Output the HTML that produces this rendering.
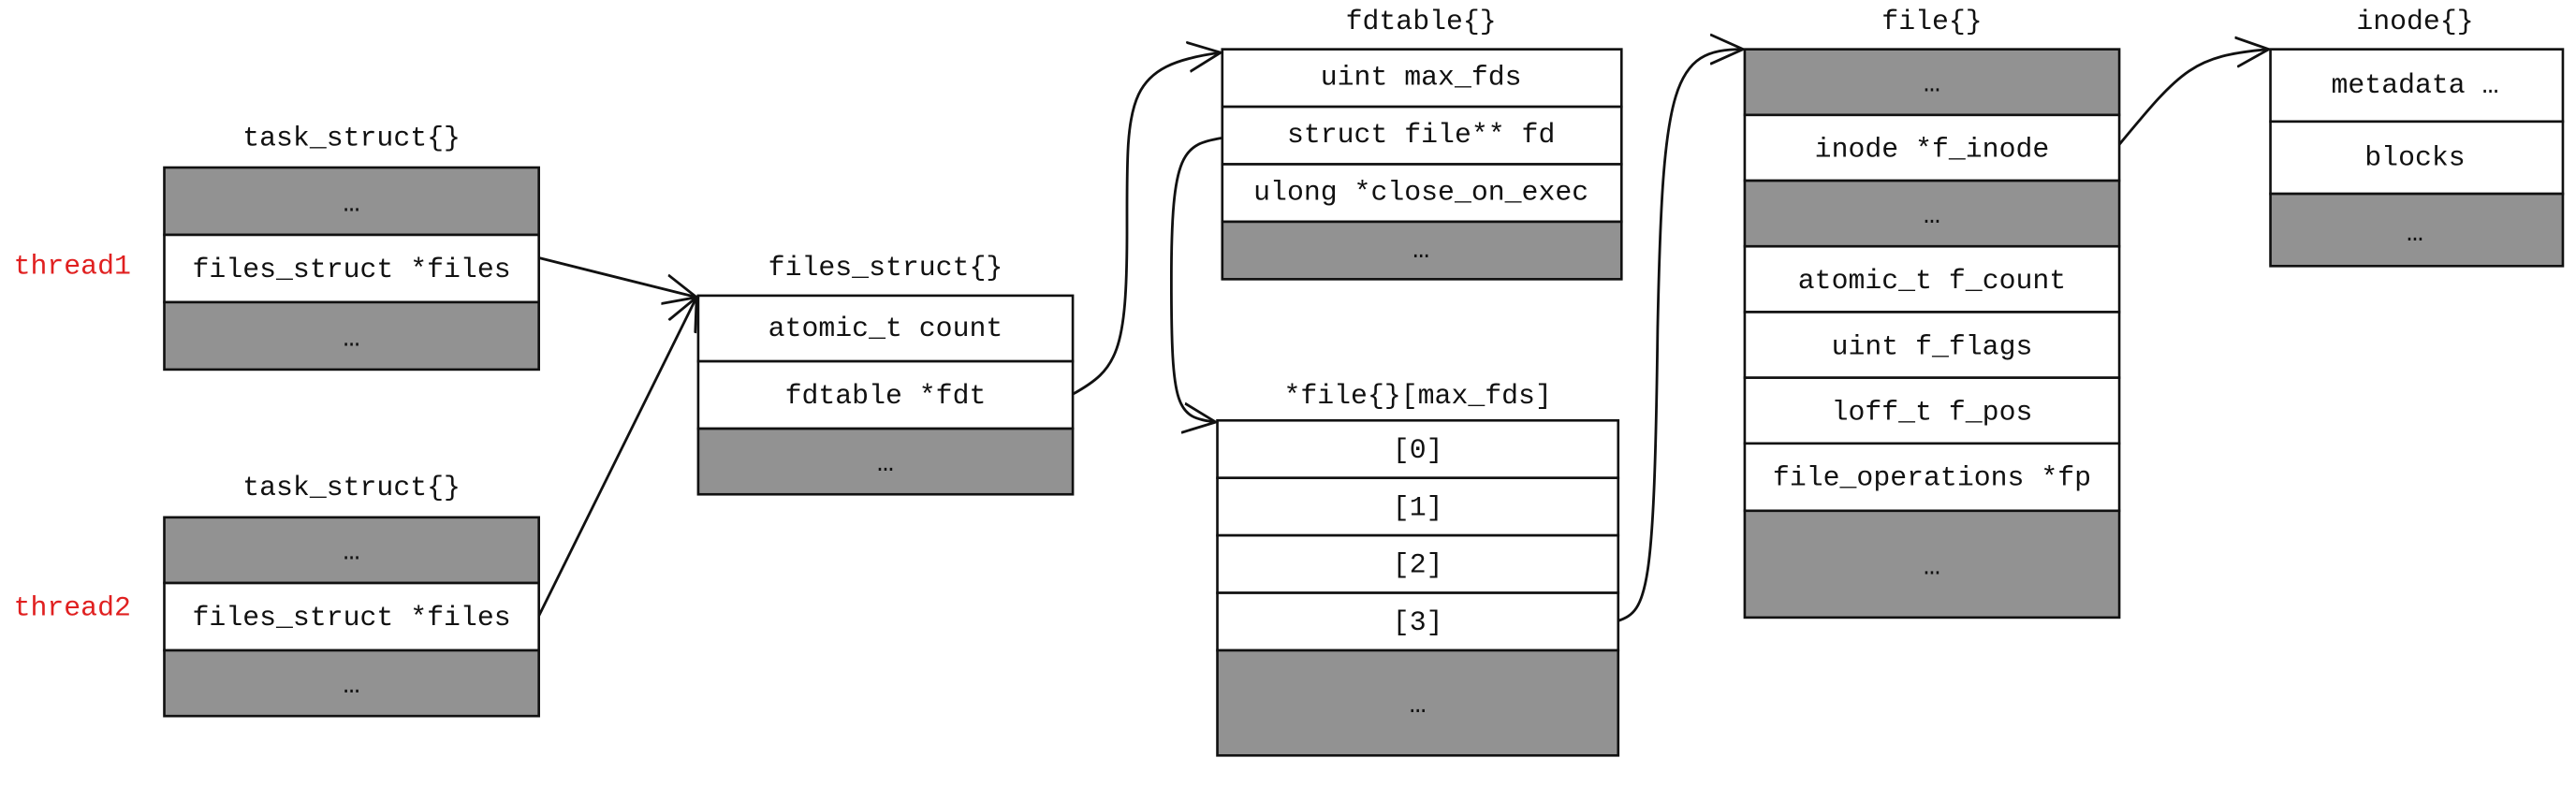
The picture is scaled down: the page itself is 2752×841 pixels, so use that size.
<!DOCTYPE html>
<html><head><meta charset="utf-8"><style>
html,body{margin:0;padding:0;background:#fff;}
svg{display:block}
text{font-family:"Liberation Mono",monospace;font-size:17px;fill:#111;text-anchor:middle;dominant-baseline:central}
.w{fill:#fff;stroke:#111;stroke-width:1.5}
.g{fill:#929292;stroke:#111;stroke-width:1.5}
.c{fill:none;stroke:#111;stroke-width:1.6}
</style></head><body>
<svg width="2752" height="841" viewBox="0 0 1568 479.2" preserveAspectRatio="none" xmlns="http://www.w3.org/2000/svg">
<defs><marker id="a" markerWidth="24" markerHeight="20" refX="20" refY="10" orient="auto" markerUnits="userSpaceOnUse"><path d="M0,1 L20,10 L0,19" fill="none" stroke="#111" stroke-width="1.6"/></marker></defs>

<text x="214" y="84">task_struct{}</text>
<rect class="g" x="100" y="102" width="228" height="41"/><text x="214" y="124">…</text>
<rect class="w" x="100" y="143" width="228" height="41"/><text x="214" y="164">files_struct *files</text>
<rect class="g" x="100" y="184" width="228" height="41"/><text x="214" y="206">…</text>
<text x="44" y="162" style="fill:#e02020">thread1</text>

<text x="214" y="297">task_struct{}</text>
<rect class="g" x="100" y="315" width="228" height="40"/><text x="214" y="336">…</text>
<rect class="w" x="100" y="355" width="228" height="41"/><text x="214" y="376">files_struct *files</text>
<rect class="g" x="100" y="396" width="228" height="40"/><text x="214" y="417">…</text>
<text x="44" y="370" style="fill:#e02020">thread2</text>

<text x="539" y="163">files_struct{}</text>
<rect class="w" x="425" y="180" width="228" height="40"/><text x="539" y="200">atomic_t count</text>
<rect class="w" x="425" y="220" width="228" height="41"/><text x="539" y="241">fdtable *fdt</text>
<rect class="g" x="425" y="261" width="228" height="40"/><text x="539" y="282">…</text>

<text x="865" y="13">fdtable{}</text>
<rect class="w" x="744" y="30" width="243" height="35"/><text x="865" y="47">uint max_fds</text>
<rect class="w" x="744" y="65" width="243" height="35"/><text x="865" y="82">struct file** fd</text>
<rect class="w" x="744" y="100" width="243" height="35"/><text x="865" y="117">ulong *close_on_exec</text>
<rect class="g" x="744" y="135" width="243" height="35"/><text x="865" y="152">…</text>

<text x="863" y="241">*file{}[max_fds]</text>
<rect class="w" x="741" y="256" width="244" height="35"/><text x="863" y="274">[0]</text>
<rect class="w" x="741" y="291" width="244" height="35"/><text x="863" y="309">[1]</text>
<rect class="w" x="741" y="326" width="244" height="35"/><text x="863" y="344">[2]</text>
<rect class="w" x="741" y="361" width="244" height="35"/><text x="863" y="379">[3]</text>
<rect class="g" x="741" y="396" width="244" height="64"/><text x="863" y="429">…</text>

<text x="1176" y="13">file{}</text>
<rect class="g" x="1062" y="30" width="228" height="40"/><text x="1176" y="51">…</text>
<rect class="w" x="1062" y="70" width="228" height="40"/><text x="1176" y="91">inode *f_inode</text>
<rect class="g" x="1062" y="110" width="228" height="40"/><text x="1176" y="131">…</text>
<rect class="w" x="1062" y="150" width="228" height="40"/><text x="1176" y="171">atomic_t f_count</text>
<rect class="w" x="1062" y="190" width="228" height="40"/><text x="1176" y="211">uint f_flags</text>
<rect class="w" x="1062" y="230" width="228" height="40"/><text x="1176" y="251">loff_t f_pos</text>
<rect class="w" x="1062" y="270" width="228" height="41"/><text x="1176" y="291">file_operations *fp</text>
<rect class="g" x="1062" y="311" width="228" height="65"/><text x="1176" y="345">…</text>

<text x="1470" y="13">inode{}</text>
<rect class="w" x="1382" y="30" width="178" height="44"/><text x="1470" y="52">metadata …</text>
<rect class="w" x="1382" y="74" width="178" height="44"/><text x="1470" y="96">blocks</text>
<rect class="g" x="1382" y="118" width="178" height="44"/><text x="1470" y="142">…</text>

<path class="c" d="M328,157 L424,181" marker-end="url(#a)"/>
<path class="c" d="M328,375 L424,181" marker-end="url(#a)"/>
<path class="c" d="M653,240 C680,225 686,215 686,140 C686,60 684,40 743,32" marker-end="url(#a)"/>
<path class="c" d="M744,84 C720,88 713,92 713,170 C713,250 716,254 740,257" marker-end="url(#a)"/>
<path class="c" d="M985,378 C1003,372 1007,360 1009,200 C1012,50 1018,30 1061,30" marker-end="url(#a)"/>
<path class="c" d="M1290,88 C1328,42 1335,34 1381,30" marker-end="url(#a)"/>
</svg>
</body></html>
